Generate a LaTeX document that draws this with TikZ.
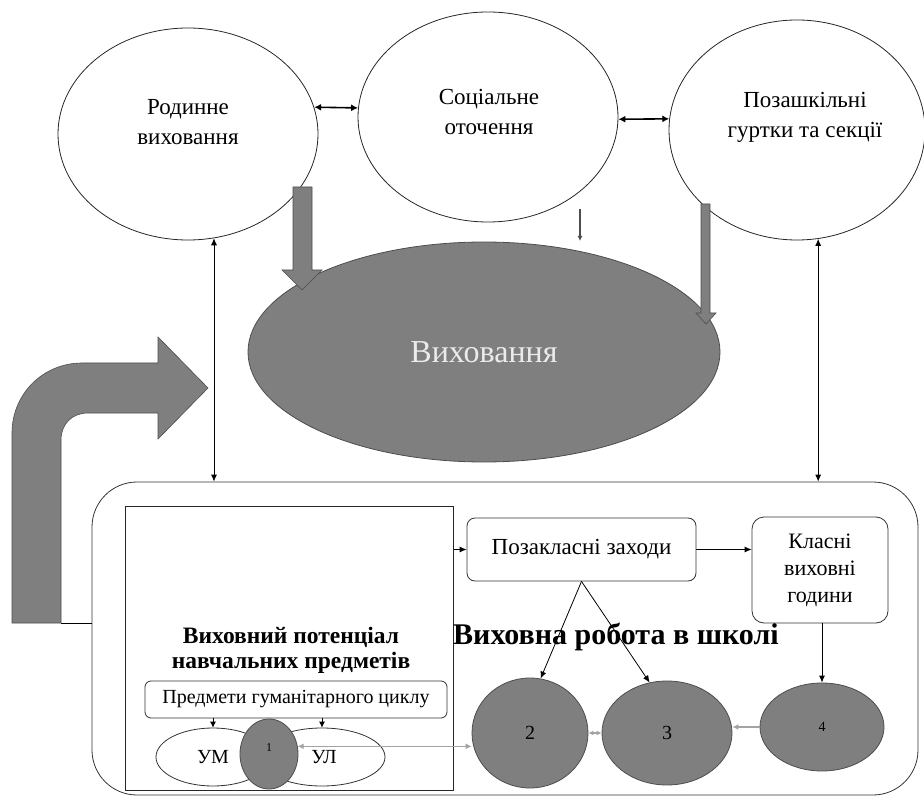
\documentclass[tikz,border=0pt]{standalone}
\usepackage{fontspec}
\setmainfont{Liberation Serif}
\usetikzlibrary{arrows.meta,shapes.geometric}
\definecolor{fillgray}{HTML}{7F7F7F}
\definecolor{edgegray}{HTML}{4D4D4D}
\definecolor{lightarrow}{HTML}{A3A3A3}
\begin{document}
\begin{tikzpicture}[x=1pt,y=-1pt,
  topell/.style={ellipse, draw=black!85, line width=0.8pt, fill=white, inner sep=0pt},
  toptext/.style={align=center, font=\fontsize{23}{30}\selectfont, inner sep=0pt},
  grayell/.style={ellipse, draw=edgegray, line width=0.8pt, fill=fillgray, inner sep=0pt},
  rbox/.style={draw=black!80, line width=0.8pt, rounded corners=8pt, fill=white, align=center, inner sep=0pt},
  blk/.style={-{Latex[length=7pt,width=6pt]}, line width=0.8pt},
  dblk/.style={{Latex[length=7pt,width=6pt]}-{Latex[length=7pt,width=6pt]}, line width=0.8pt},
  topdbl/.style={{Latex[length=7pt,width=7pt]}-{Latex[length=7pt,width=7pt]}, line width=1.6pt},
  garr/.style={draw=lightarrow, line width=1.3pt},
  blockarrow/.style={fill=fillgray, draw=edgegray, line width=0.6pt}
]
\useasboundingbox (0,0) rectangle (924,802);

% top ellipses
\node[topell, minimum width=260, minimum height=212] (e1) at (188,134) {};
\node[topell, minimum width=260, minimum height=210] (e2) at (488,117) {};
\node[topell, minimum width=256, minimum height=220] (e3) at (797,130) {};
\node[toptext] (t1) at (188,122) {Родинне\\виховання};
\node[toptext] (t2) at (489,112) {Соціальне\\оточення};
\node[toptext] (t3) at (805,117) {Позашкільні\\гуртки та секції};

\draw[topdbl] (e1.12) -- (e2.176);
\draw[topdbl] (e2.-1) -- (e3.175);

% big ellipse
\node[grayell, minimum width=472, minimum height=220, text=white!92!black,
      font=\fontsize{32}{38}\selectfont] (vh) at (484,352) {Виховання};

% block arrows down
\filldraw[blockarrow] (293,187) -- (312,187) -- (312,270) -- (322,270) -- (302,290)
  -- (282,270) -- (293,270) -- cycle;
\filldraw[blockarrow] (701,204) -- (710,204) -- (710,313) -- (716,313) -- (706,324)
  -- (696,313) -- (701,313) -- cycle;
\coordinate (m1) at (580,209);
\coordinate (m2) at (580,241);
\draw[draw=edgegray, line width=1.6pt, -{Latex[length=5pt,width=5pt]}] (m1) -- (m2);

% bent arrow
\filldraw[blockarrow] (12,623) -- (12,433) .. controls (12,394) and (43,363) .. (82,363)
  -- (158,363) -- (158,337) -- (208,388) -- (158,439) -- (158,413) -- (88,413)
  .. controls (72,413) and (61,424) .. (61,440) -- (61,623) -- cycle;

% school box
\node[draw=black!80, line width=0.8pt, rounded corners=45pt, minimum width=826,
      minimum height=313, inner sep=0pt] (box) at (505,638.5) {};
\coordinate (bentfoot) at (61,623);
\draw[line width=0.8pt] (bentfoot) -- (bentfoot -| box.west);

\draw[dblk] (e1.-76.5) -- (e1.-76.5 |- box.north);
\draw[dblk] (e3.-79.6) -- (e3.-79.6 |- box.north);

% subjects panel
\node[draw=black!85, line width=1pt, minimum width=328, minimum height=284, inner sep=0pt]
  (pot) at (289,648) {};
\node[font=\bfseries\fontsize{23.5}{25}\selectfont, align=center] (pott) at (291,650)
  {Виховний потенціал\\навчальних предметів};
\node[rbox, rounded corners=6pt, minimum width=302, minimum height=37,
      font=\fontsize{20}{22}\selectfont] (pr) at (296,699.5) {Предмети гуманітарного циклу};
\node[ellipse, draw=black!80, line width=0.8pt, minimum width=114, minimum height=58,
      inner sep=0pt, font=\fontsize{20}{22}\selectfont] (um) at (213,757) {УМ};
\node[ellipse, draw=black!80, line width=0.8pt, minimum width=126, minimum height=58,
      inner sep=0pt, font=\fontsize{20}{22}\selectfont] (ul) at (322,757) {\hspace*{4pt}УЛ};
\draw[blk, -{Latex[length=6pt,width=6pt]}] (pr.south -| um.north) -- (um.north);
\draw[blk, -{Latex[length=6pt,width=6pt]}] (pr.south -| ul.north) -- (ul.north);
\node[grayell, minimum width=58, minimum height=70] (c1) at (269,754) {};
\node[font=\fontsize{12}{14}\selectfont] (c1t) at (269,748) {1};

% school work
\node[rbox, minimum width=229, minimum height=63, font=\fontsize{23}{26}\selectfont]
  (pz) at (581.5,549.5) {Позакласні заходи};
\node[rbox, rounded corners=12pt, minimum width=136, minimum height=106,
      font=\fontsize{22}{27}\selectfont] (kl) at (820,570) {Класні\\виховні\\години};
\node[font=\bfseries\fontsize{30}{32}\selectfont] (vr) at (616,637) {Виховна робота в школі};

\node[grayell, minimum width=116, minimum height=110, font=\fontsize{20}{22}\selectfont]
  (c2) at (530,733) {2};
\node[grayell, minimum width=130, minimum height=104, font=\fontsize{20}{22}\selectfont]
  (c3) at (667,733) {3};
\node[grayell, minimum width=124, minimum height=88, font=\fontsize{14}{16}\selectfont]
  (c4) at (822,727) {4};

\draw[blk] (pot.east |- pz.west) -- (pz.west);
\draw[blk] (pz.east) -- (pz.east -| kl.west);
\draw[blk] (kl.south -| c4.north) -- (c4.north);
\draw[blk] (pz.south) -- (c2.79);
\draw[blk] (pz.south) -- (c3.109);

\draw[garr, {Latex[length=6pt,width=6pt]}-{Latex[length=6pt,width=6pt]}, lightarrow] (c1.15) -- (c1.15 -| c2.west);
\draw[garr, {Latex[length=5pt,width=5pt]}-{Latex[length=5pt,width=5pt]}, lightarrow] (c2.east) -- (c3.west);
\draw[garr, -{Latex[length=6pt,width=6pt]}, lightarrow] (c4.west) -- (c4.west -| c3.east);
\end{tikzpicture}
\end{document}
